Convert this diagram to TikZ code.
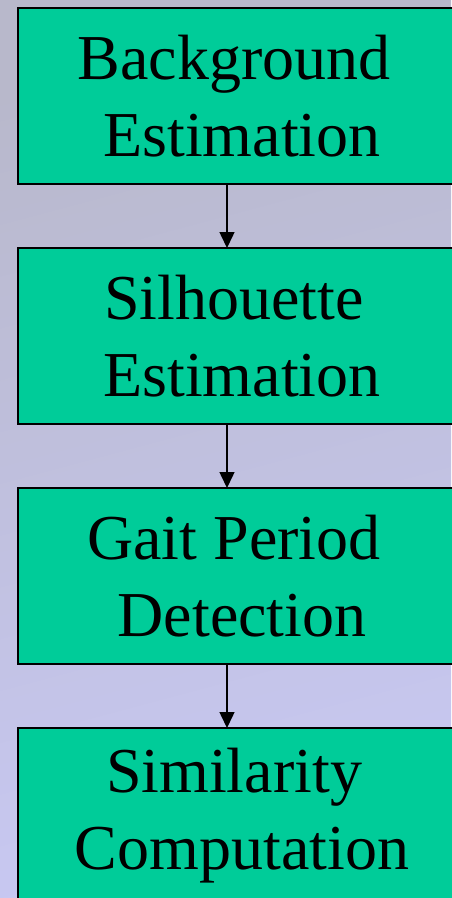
\documentclass[tikz,border=0pt]{standalone}
\usepackage{fontspec}
\setmainfont{Liberation Serif}
\usetikzlibrary{positioning,arrows.meta}

\definecolor{stagegreen}{RGB}{0,204,153}
\definecolor{bgtop}{RGB}{184,184,203}
\definecolor{bgbottom}{RGB}{200,200,242}

\tikzset{
  stagebox/.style={draw=black, line width=2.2pt, fill=stagegreen,
    minimum width=448pt, minimum height=176pt, inner sep=0pt, outer sep=0pt,
    align=center, font=\fontsize{64}{77}\selectfont},
  flow/.style={line width=1.5pt, -{Triangle[length=16pt,width=15pt]}}
}

% first lines sit a little left of the second ones
\newcommand\lineone[1]{#1\kern16pt}

\begin{document}
\begin{tikzpicture}[x=1pt,y=1pt, node distance=64pt]

\useasboundingbox (0,0) rectangle (451,-898);

% backdrop
\shade[shading=axis, top color=bgtop, bottom color=bgbottom, shading angle=15]
  (0,0) rectangle (451,-898);

\newcommand\boxx{242}

  \node[stagebox] (bgest) at (\boxx,-96) {\lineone{Background}\\Estimation};
  \node[stagebox, below=of bgest] (silest) {\lineone{Silhouette}\\Estimation};
  \node[stagebox, below=of silest] (gaitdet) {\lineone{Gait Period}\\Detection};
  \node[stagebox, below=of gaitdet] (simcomp) {\lineone{Similarity}\\Computation};

\coordinate (flowx) at (227,0);

\foreach \a/\b in {bgest/silest,silest/gaitdet,gaitdet/simcomp}
  \draw[flow] (\a.south -| flowx) -- (\b.north -| flowx);

\end{tikzpicture}
\end{document}
